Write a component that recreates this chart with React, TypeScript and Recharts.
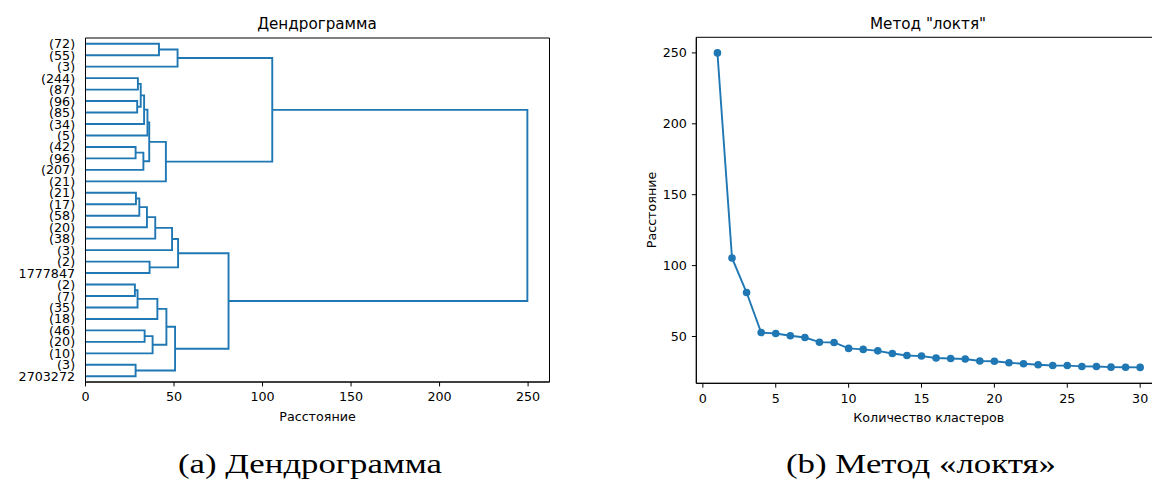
import { ComposedChart, LineChart, Line, XAxis, YAxis, ReferenceArea } from 'recharts';

// листья дендрограммы сверху вниз
const leafLabels = [
  '(72)', '(55)', '(3)', '(244)', '(87)', '(96)', '(85)', '(34)', '(5)', '(42)',
  '(96)', '(207)', '(21)', '(21)', '(17)', '(58)', '(20)', '(38)', '(3)', '(2)',
  '1777847', '(2)', '(7)', '(35)', '(18)', '(46)', '(20)', '(10)', '(3)', '2703272',
];

// слияния: [кластер, кластер, расстояние]; id >= 30 — результат предыдущего слияния (30 + номер)
const merges: [number, number, number][] = [
  [0, 1, 41.5], [30, 2, 52.0],
  [3, 4, 29.6], [5, 6, 29.2], [32, 33, 31.2], [34, 7, 33.1], [35, 8, 35.0],
  [9, 10, 28.3], [37, 11, 32.7], [36, 38, 36.0], [39, 12, 45.4],
  [31, 40, 105.5],
  [13, 14, 28.5], [42, 15, 30.4], [43, 16, 34.7], [44, 17, 39.4], [45, 18, 48.9],
  [19, 20, 36.2], [46, 47, 52.3],
  [21, 22, 27.9], [49, 23, 29.4], [50, 24, 40.6],
  [25, 26, 33.4], [52, 27, 37.9], [51, 53, 45.7],
  [28, 29, 28.3], [54, 55, 50.6],
  [48, 56, 80.8],
  [41, 57, 249.6],
];
const distTicks = [0, 50, 100, 150, 200, 250];

// метод локтя
const clusterCounts = [
  1, 2, 3, 4, 5, 6, 7, 8, 9, 10, 11, 12, 13, 14, 15,
  16, 17, 18, 19, 20, 21, 22, 23, 24, 25, 26, 27, 28, 29, 30,
];
const elbowDist = [
  250, 105.4, 81.0, 52.8, 52.1, 50.5, 49.3, 46.0, 45.8, 41.6, 40.9, 39.9, 38.0, 36.6, 36.2,
  34.8, 34.5, 34.1, 32.7, 32.5, 31.5, 30.8, 30.1, 29.6, 29.5, 28.9, 28.8, 28.4, 28.3, 28.2,
];
const countTicks = [0, 5, 10, 15, 20, 25, 30];
const elbowTicks = [50, 100, 150, 200, 250];

const BLUE = '#1f77b4';
const FONT = '"DejaVu Sans", sans-serif';
const tickStyle = { fill: '#000', fontSize: 12.7, fontFamily: FONT };

// координаты узлов как в scipy: лист i на позиции 10*i+5 (снизу вверх)
const nLeaves = leafLabels.length;
const nodePos: number[] = leafLabels.map((_, i) => 10 * (nLeaves - 1 - i) + 5);
const nodeDist: number[] = leafLabels.map(() => 0);
const links = merges.map(([a, b, d]) => {
  const pts = [
    { x: nodeDist[a], y: nodePos[a] },
    { x: d, y: nodePos[a] },
    { x: d, y: nodePos[b] },
    { x: nodeDist[b], y: nodePos[b] },
  ];
  nodePos.push((nodePos[a] + nodePos[b]) / 2);
  nodeDist.push(d);
  return pts;
});
const leafTicks = leafLabels.map((_, i) => 10 * (nLeaves - 1 - i) + 5).reverse();
const labelAt = (v: number) => leafLabels[nLeaves - 1 - (v - 5) / 10];

const elbowData = clusterCounts.map((k, i) => ({ k, dist: elbowDist[i] }));

const DIST_MAX = 262.1;

const App = () => {
  return (
    <div style={{ position: 'absolute', left: 0, top: 0, width: 1152, height: 479, overflow: 'hidden', background: '#fff' }}>
      {/* дендрограмма */}
      <div style={{ position: 'absolute', left: 0, top: 0 }}>
        <ComposedChart width={560} height={430} margin={{ top: 38, right: 10.5, bottom: 8, left: 10.5 }}>
          <XAxis
            type="number"
            dataKey="x"
            domain={[0, DIST_MAX]}
            allowDataOverflow
            ticks={distTicks}
            height={40}
            tickSize={4.4}
            tickMargin={6}
            tick={tickStyle}
            stroke="#000"
            label={{ value: 'Расстояние', position: 'insideBottom', offset: 1, fill: '#000', fontSize: 12.7, fontFamily: FONT }}
          />
          <YAxis
            type="number"
            dataKey="y"
            domain={[0, 10 * nLeaves]}
            allowDataOverflow
            ticks={leafTicks}
            interval={0}
            tickFormatter={labelAt}
            tickLine={false}
            tickSize={4.4}
            tickMargin={6}
            width={75}
            tick={tickStyle}
            stroke="#000"
          />
          <ReferenceArea x1={0} x2={DIST_MAX} y1={0} y2={10 * nLeaves} fill="none" stroke="#000" strokeWidth={1} fillOpacity={0} />
          {links.map((pts, i) => (
            <Line
              key={i}
              data={pts}
              dataKey="y"
              type="linear"
              stroke={BLUE}
              strokeWidth={1.9}
              dot={false}
              activeDot={false}
              isAnimationActive={false}
            />
          ))}
        </ComposedChart>
      </div>

      {/* метод локтя */}
      <div style={{ position: 'absolute', left: 620, top: 0 }}>
        <LineChart width={560} height={430} data={elbowData} margin={{ top: 37.3, right: 18.7, bottom: 6.7, left: 16.3 }}>
          <XAxis
            type="number"
            dataKey="k"
            domain={[-0.45, 31.45]}
            allowDataOverflow
            ticks={countTicks}
            height={40}
            tickSize={4.4}
            tickMargin={6}
            tick={tickStyle}
            stroke="#000"
            label={{ value: 'Количество кластеров', position: 'insideBottom', offset: 1, fill: '#000', fontSize: 12.7, fontFamily: FONT }}
          />
          <YAxis
            type="number"
            domain={[17, 261]}
            allowDataOverflow
            ticks={elbowTicks}
            tickSize={4.4}
            tickMargin={5}
            width={60}
            tick={tickStyle}
            stroke="#000"
          />
          <ReferenceArea x1={-0.45} x2={31.45} y1={17} y2={261} fill="none" stroke="#000" strokeWidth={1} fillOpacity={0} />
          <Line
            dataKey="dist"
            type="linear"
            stroke={BLUE}
            strokeWidth={1.9}
            dot={{ r: 3.8, fill: BLUE, stroke: 'none' }}
            activeDot={false}
            isAnimationActive={false}
          />
        </LineChart>
      </div>

      {/* заголовки, подпись оси и подписи рисунков */}
      <svg width={1152} height={479} style={{ position: 'absolute', left: 0, top: 0, pointerEvents: 'none' }}>
        <g fontFamily={FONT} fill="#000">
          <text x={317} y={29} fontSize={15.2} textAnchor="middle">Дендрограмма</text>
          <text x={928} y={29} fontSize={15.2} textAnchor="middle">Метод "локтя"</text>
          <text x={651} y={210} fontSize={12.7} textAnchor="middle" dominantBaseline="central" transform="rotate(-90 651 210)">Расстояние</text>
        </g>
        <g fontFamily='"Liberation Serif", serif' fill="#000" fontSize={27}>
          <text x={178} y={473} textLength={264} lengthAdjust="spacingAndGlyphs">(a) Дендрограмма</text>
          <text x={786} y={473} textLength={270} lengthAdjust="spacingAndGlyphs">(b) Метод «локтя»</text>
        </g>
      </svg>
    </div>
  );
};

export default App;
